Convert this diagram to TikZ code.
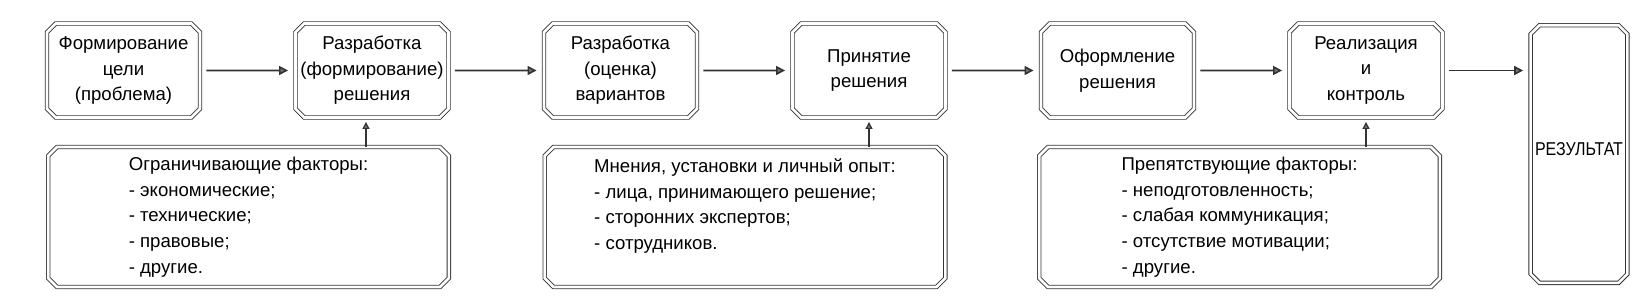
\documentclass[tikz,border=0pt]{standalone}
\usepackage{fontspec}
\setmainfont{Liberation Sans}
\usetikzlibrary{positioning,shapes.misc,arrows.meta}
\begin{document}
\begin{tikzpicture}[
stage/.style={chamfered rectangle,chamfered rectangle xsep=2.2pt,chamfered rectangle ysep=2.2pt,
  draw=black!80,double,double distance=1.3pt,line width=0.45pt,inner sep=0pt,
  minimum width=76.5pt,minimum height=47pt,align=center,font=\fontsize{9.3}{12.8}\selectfont},
factor/.style={stage,minimum width=200.3pt,minimum height=70pt,align=left,font=\fontsize{9.3}{12.9}\selectfont},
result/.style={stage,minimum width=47.8pt,minimum height=128.8pt,inner sep=0pt},
flow/.style={draw=black!80,line width=0.8pt,-{Triangle[fill=black!55,length=4.5pt,width=4.5pt]},shorten <=3pt,shorten >=3.5pt},
push/.style={draw=black!80,line width=0.6pt,-{Triangle[fill=black!55,length=3.5pt,width=3.5pt]},shorten >=2pt},
node distance=47.3pt
]
\useasboundingbox (0,0) rectangle (821pt,-150pt);
% main chain
\node[stage] (goal) at (61.75pt,-35.25pt) {Формирование\\цели\\(проблема)};
\node[stage,right=of goal] (draft) {Разработка\\(формирование)\\решения};
\node[stage,right=of draft] (variants) {Разработка\\(оценка)\\вариантов};
\node[stage,right=of variants] (choice) {Принятие\\решения};
\node[stage,right=of choice] (form) {Оформление\\решения};
\node[stage,right=of form] (control) {Реализация\\и\\контроль};
\node[result] (res) at (789.5pt,-77pt) {\raisebox{5pt}{\scalebox{0.86}[1]{РЕЗУЛЬТАТ}}};
% factors
\node[factor] (limits) at (124.25pt,-108.5pt) {Ограничивающие факторы:\\- экономические;\\- технические;\\- правовые;\\- другие.};
\node[factor] (views) at (372.5pt,-108.5pt) {Мнения, установки и личный опыт:\\- лица, принимающего решение;\\- сторонних экспертов;\\- сотрудников.\\\mbox{}};
\node[factor] (barriers) at (619.75pt,-108.5pt) {Препятствующие факторы:\\- неподготовленность;\\- слабая коммуникация;\\- отсутствие мотивации;\\- другие.};
% arrows
\draw[flow] (goal) -- (draft);
\draw[flow] (draft) -- (variants);
\draw[flow] (variants) -- (choice);
\draw[flow] (choice) -- (form);
\draw[flow] (form) -- (control);
\draw[flow] (control.east) -- (control.east -| res.west);
\draw[push] ([xshift=-3pt]draft.south |- limits.north) -- ([xshift=-3pt]draft.south);
\draw[push] (choice.south |- views.north) -- (choice.south);
\draw[push] (control.south |- barriers.north) -- (control.south);
\end{tikzpicture}
\end{document}
